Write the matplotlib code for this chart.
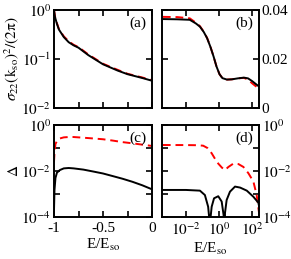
import matplotlib
matplotlib.use("Agg")
import matplotlib.pyplot as plt

plt.rcParams['font.family'] = 'Liberation Serif'
plt.rcParams['mathtext.fontset'] = 'stix'
plt.rcParams['font.size'] = 11

# (a) sigma vs E/Eso (linear x, E<0)
a_x = [-1.0, -0.99, -0.97, -0.95, -0.9, -0.85, -0.8, -0.75, -0.65, -0.5, -0.35, -0.25, -0.1, 0.0]
a_black = [1.0, 0.72, 0.52, 0.40, 0.28, 0.22, 0.19, 0.17, 0.12, 0.078, 0.058, 0.049, 0.041, 0.036]
a_red = [1.0, 0.74, 0.54, 0.41, 0.29, 0.23, 0.195, 0.175, 0.124, 0.080, 0.060, 0.050, 0.042, 0.037]

# (b) sigma vs E/Eso (log x, E>0)
b_x = [4e-4, 3e-3, 0.017, 0.04, 0.07, 0.12, 0.19, 0.3, 0.47, 0.7, 1.07, 1.6, 3, 6, 14, 32, 57, 100, 175, 263]
b_black = [0.0363, 0.0362, 0.036, 0.0345, 0.0332, 0.031, 0.0285, 0.025, 0.021, 0.017, 0.0138, 0.0122,
           0.0116, 0.0117, 0.0121, 0.0124, 0.0121, 0.011, 0.0097, 0.0088]
b_red = [0.0372, 0.0371, 0.0366, 0.0348, 0.0334, 0.0311, 0.0286, 0.0251, 0.021, 0.017, 0.0138, 0.0122,
         0.0116, 0.0117, 0.0121, 0.0123, 0.0116, 0.0101, 0.0088, 0.0076]

# (c) Delta vs E/Eso (linear x)
c_x = [-1.0, -0.995, -0.985, -0.97, -0.94, -0.9, -0.85, -0.8, -0.7, -0.6, -0.5, -0.4, -0.3, -0.2, -0.1, 0.0]
c_black = [2e-4, 1.5e-3, 5e-3, 8.5e-3, 0.011, 0.013, 0.0135, 0.013, 0.0115, 0.0095, 0.0078, 0.006,
           0.0046, 0.0034, 0.0024, 0.0016]
c_red = [0.025, 0.06, 0.15, 0.2, 0.26, 0.29, 0.3, 0.3, 0.28, 0.26, 0.24, 0.21, 0.18, 0.16, 0.14, 0.123]

# (d) Delta vs E/Eso (log x)
d_x_red = [4e-4, 0.01, 0.05, 0.11, 0.2, 0.36, 0.6, 0.9, 1.5, 2.3, 3.7, 7.4, 15, 30, 60, 120, 190, 265]
d_red = [0.135, 0.134, 0.132, 0.126, 0.1, 0.059, 0.032, 0.021, 0.014, 0.011, 0.015, 0.021, 0.02, 0.015,
         0.008, 0.0035, 9e-4, 1.5e-4]
d_x_black = [4e-4, 0.01, 0.07, 0.14, 0.22, 0.26, 0.28, 0.30, 0.36, 0.5, 0.9, 1.45, 1.9, 2.1, 2.3, 2.9,
             4.6, 9.3, 19, 48, 120, 240, 265]
d_black = [1.5e-3, 1.5e-3, 1.4e-3, 9e-4, 2.8e-4, 8e-5, 1e-8, 8e-5, 2.8e-4, 6.5e-4, 8e-4, 4.7e-4,
           1.2e-4, 1e-8, 1.5e-4, 5.5e-4, 1.26e-3, 2.1e-3, 1.9e-3, 1.4e-3, 7.6e-4, 4.2e-4, 3e-4]

W, H = 291, 259
fig = plt.figure(figsize=(W / 100, H / 100), dpi=100)

def box(l, t, r, b):
    return [l / W, 1 - b / H, (r - l) / W, (b - t) / H]

ax_a = fig.add_axes(box(54, 10, 152, 108))
ax_b = fig.add_axes(box(162, 10, 259, 108))
ax_c = fig.add_axes(box(54, 125, 152, 217))
ax_d = fig.add_axes(box(162, 125, 259, 217))

lw = 1.4
dash = dict(color='#ff0000', ls=(0, (4, 2.5)), lw=lw)
solid = dict(color='black', lw=lw)

ax_a.plot(a_x, a_red, **dash)
ax_a.plot(a_x, a_black, **solid)
ax_b.plot(b_x, b_red, **dash)
ax_b.plot(b_x, b_black, **solid)
ax_c.plot(c_x, c_red, **dash)
ax_c.plot(c_x, c_black, **solid)
ax_d.plot(d_x_red, d_red, **dash)
ax_d.plot(d_x_black, d_black, **solid)

for ax in [ax_a, ax_b, ax_c, ax_d]:
    for s in ax.spines.values():
        s.set_linewidth(1.4)
    ax.tick_params(which='both', direction='in', top=True, right=True, length=4.5, width=1.2, pad=2)
    ax.tick_params(axis='x', pad=3.5)
    ax.minorticks_off()

# linear x panels
for ax in [ax_a, ax_c]:
    ax.set_xlim(-1, 0)
    ax.set_xticks([-1, -0.75, -0.5, -0.25, 0])
    ax.set_yscale('log')
    ax.minorticks_off()
ax_a.set_xticklabels([])
ax_c.set_xticklabels(['-1', '', '-0.5', '', '0'])

ax_a.set_ylim(1e-2, 1)
ax_a.set_yticks([1e-2, 1e-1, 1])
ax_a.set_yticklabels([r'$10^{-2}$', r'$10^{-1}$', r'$10^{0}$'])

ax_c.set_ylim(1e-4, 1)
ax_c.set_yticks([1e-4, 1e-3, 1e-2, 1e-1, 1])
ax_c.set_yticklabels([r'$10^{-4}$', '', r'$10^{-2}$', '', r'$10^{0}$'])

# log x panels
for ax in [ax_b, ax_d]:
    ax.set_xscale('log')
    ax.set_xlim(10 ** -3.45, 10 ** 2.42)
    ax.set_xticks([1e-2, 1, 1e2])
    ax.minorticks_off()
    ax.yaxis.tick_right()
    ax.tick_params(which='both', left=True, right=True)
ax_b.set_xticklabels([])
ax_d.set_xticklabels([r'$10^{-2}$', r'$10^{0}$', r'$10^{2}$'])

ax_b.set_ylim(0, 0.04)
ax_b.set_yticks([0, 0.02, 0.04])
ax_b.set_yticklabels(['0', '0.02', '0.04'])

ax_d.set_yscale('log')
ax_d.set_ylim(1e-4, 1)
ax_d.set_yticks([1e-4, 1e-3, 1e-2, 1e-1, 1])
ax_d.set_yticklabels([r'$10^{-4}$', '', r'$10^{-2}$', '', r'$10^{0}$'])
ax_d.minorticks_off()

for ax, lab in zip([ax_a, ax_b, ax_c, ax_d], ['(a)', '(b)', '(c)', '(d)']):
    ax.text(0.94, 0.86, lab, transform=ax.transAxes, ha='right', va='center')

ax_a.set_ylabel(r'$\sigma_{22}(\mathrm{k}_{\rm so})^2/(2\mathrm{\pi})$')
ax_a.yaxis.set_label_coords(-0.34, 0.5)
ax_c.set_ylabel(r'$\Delta$')
ax_c.yaxis.set_label_coords(-0.34, 0.5)
ax_c.set_xlabel(r'E/E$_{\rm so}$', va='top')
ax_c.xaxis.set_label_coords(0.5, -0.22)
ax_d.set_xlabel(r'E/E$_{\rm so}$', va='top')
ax_d.xaxis.set_label_coords(0.5, -0.26)

fig.savefig('out.png', dpi=100)
